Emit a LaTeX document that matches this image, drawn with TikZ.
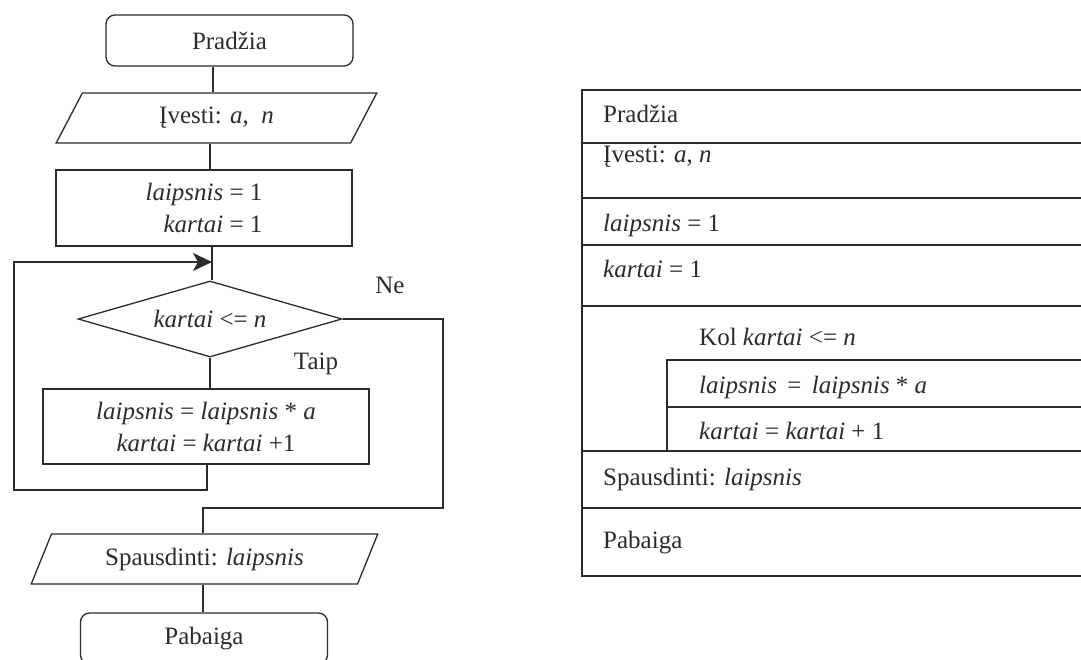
\documentclass[tikz,border=0pt]{standalone}
\usepackage{fontspec}
\setmainfont{Liberation Serif}
\usetikzlibrary{shapes.geometric,arrows.meta}
\definecolor{ink}{HTML}{2B2B2B}
\begin{document}
\begin{tikzpicture}[x=1pt,y=-1pt,
  every node/.style={font=\fontsize{25}{32}\selectfont, text=ink},
  line/.style={draw=ink, line width=1.3pt},
  term/.style={line, rounded corners=9pt, minimum width=247pt, minimum height=51pt, inner sep=0pt},
  iobox/.style={line, trapezium, trapezium stretches=true, minimum height=50pt, inner sep=0pt},
  procbox/.style={line, rectangle, inner sep=0pt},
  decbox/.style={line, diamond, aspect=3.5, minimum width=264pt, minimum height=76pt, inner sep=0pt},
  lbl/.style={anchor=base, inner sep=0pt},
  cell/.style={anchor=base west, inner sep=0pt},
  tip/.style={-{Stealth[length=19pt, width=18pt, inset=5pt]}}
]
\path[use as bounding box] (0,0) rectangle (1081,660);
\clip (0,0) rectangle (1081,660);

% ---------- flowchart ----------
\node[term] (start) at (229.5,40.5) {Pradžia};
\node[iobox, trapezium left angle=62.5, trapezium right angle=117.5, minimum width=321pt] (in) at (216.5,118) {Įvesti: \textit{a},\ \ \textit{n}};
\node[procbox, minimum width=296pt, minimum height=76pt, align=right] (init) at (204,208) {\textit{laipsnis} = 1\\\textit{kartai} = 1};
\node[decbox] (cond) at (210,319) {\textit{kartai} <=\ \textit{n}};
\node[procbox, minimum width=326pt, minimum height=75pt, align=center] (body) at (206,426.5) {\textit{laipsnis} = \textit{laipsnis} * \textit{a}\\\textit{kartai} = \textit{kartai} +1};
\node[iobox, trapezium left angle=59.9, trapezium right angle=120.1, minimum width=347pt] (out) at (204.5,559) {Spausdinti: \textit{laipsnis}};
\node[term] (end) at (204,638.5) {Pabaiga};

\node[lbl] (ne) at (390,293) {Ne};
\node[lbl] (taip) at (316,369) {Taip};

\coordinate (xa) at (213,0);
\coordinate (xb) at (210,0);
\coordinate (xc) at (212,0);
\coordinate (xd) at (207,0);
\coordinate (loopbot) at (14,490);
\coordinate (looptop) at (14,262);
\coordinate (entry) at (212,262);
\coordinate (rc) at (443,508);
\coordinate (lc) at (203,508);

\draw[line] (start.south -| xa) -- (in.north -| xa);
\draw[line] (in.south -| xb) -- (init.north -| xb);
\draw[line] (init.south -| xc) -- (cond.north -| xc);
\draw[line] (cond.south -| xb) -- (body.north -| xb);
\draw[line, tip] (body.south -| xd) |- (loopbot) -- (looptop) -- (entry);
\draw[line] (cond.east) -| (rc) -- (lc) -- (out.north -| lc);
\draw[line] (out.south -| lc) -- (end.north -| lc);

% ---------- structogram ----------
\draw[line] (582,90) rectangle (1095,576);
\draw[line] (582,143) -- (1095,143);
\draw[line] (582,198) -- (1095,198);
\draw[line] (582,245) -- (1095,245);
\draw[line] (582,306) -- (1095,306);
\draw[line] (667,451) -- (667,360) -- (1095,360);
\draw[line] (667,407) -- (1095,407);
\draw[line] (582,451) -- (1095,451);
\draw[line] (582,508) -- (1095,508);

\node[cell] (s1) at (603,123) {Pradžia};
\node[cell] (s2) at (603,163) {Įvesti: \textit{a}, \textit{n}};
\node[cell] (s3) at (603,232) {\textit{laipsnis} = 1};
\node[cell] (s4) at (603,278) {\textit{kartai} = 1};
\node[cell] (s5) at (699,345) {Kol \textit{kartai} <=\ \textit{n}};
\node[cell] (s6) at (699,393) {\textit{laipsnis}\ \,=\ \,\textit{laipsnis} * \textit{a}};
\node[cell] (s7) at (699,439) {\textit{kartai} = \textit{kartai} + 1};
\node[cell] (s8) at (603,485) {Spausdinti: \textit{laipsnis}};
\node[cell] (s9) at (603,548) {Pabaiga};
\end{tikzpicture}
\end{document}
